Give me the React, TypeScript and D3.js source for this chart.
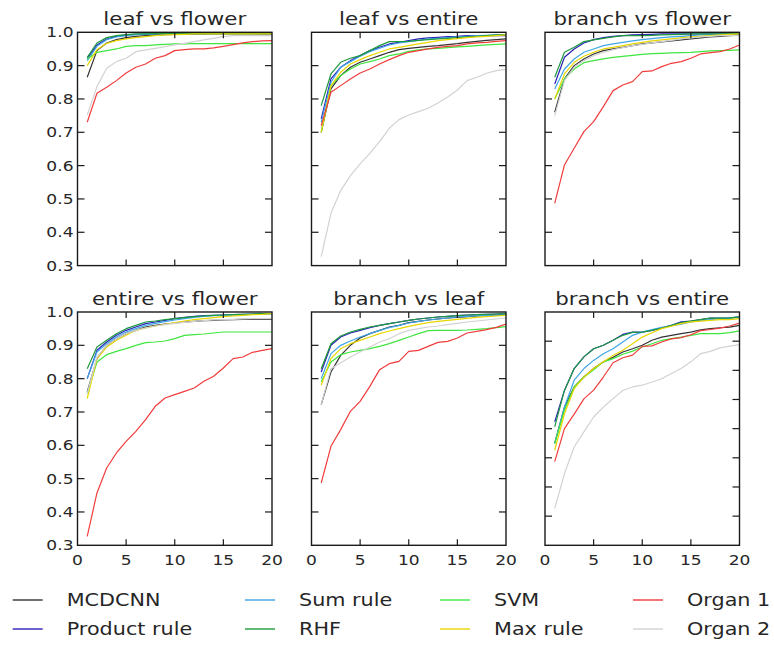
import React from "react";
import * as d3 from "d3";

// ---------- data ----------
const ranks = d3.range(1, 21);
const seriesNames = ["MCDCNN", "Product rule", "Sum rule", "RHF", "SVM", "Max rule", "Organ 1", "Organ 2"];
const seriesColors = ["#333333", "#2a20b8", "#3fa6e6", "#1f9a3e", "#3fe63f", "#e8d600", "#f23c3c", "#d2d2d2"];
const panelTitles = ["leaf vs flower", "leaf vs entire", "branch vs flower", "entire vs flower", "branch vs leaf", "branch vs entire"];
const yDomains = [[0.3, 1], [0.3, 1], [0.3, 1], [0.3, 1], [0.3, 1], [0.2, 1]];
const xTicks = [0, 5, 10, 15, 20];
const yTickLabels = ["0.3", "0.4", "0.5", "0.6", "0.7", "0.8", "0.9", "1.0"];

// series order: MCDCNN, Product rule, Sum rule, RHF, SVM, Max rule, Organ 1, Organ 2
const leafVsFlower = [
  [0.865, 0.945, 0.968, 0.978, 0.984, 0.988, 0.99, 0.992, 0.993, 0.994, 0.995, 0.995, 0.995, 0.996, 0.996, 0.996, 0.996, 0.996, 0.996, 0.996],
  [0.92, 0.962, 0.98, 0.988, 0.992, 0.994, 0.995, 0.995, 0.996, 0.996, 0.996, 0.996, 0.996, 0.996, 0.996, 0.996, 0.996, 0.996, 0.995, 0.995],
  [0.915, 0.958, 0.978, 0.986, 0.99, 0.993, 0.994, 0.995, 0.995, 0.996, 0.996, 0.996, 0.996, 0.996, 0.996, 0.996, 0.996, 0.996, 0.996, 0.996],
  [0.925, 0.968, 0.984, 0.99, 0.993, 0.995, 0.995, 0.996, 0.996, 0.996, 0.996, 0.996, 0.996, 0.996, 0.996, 0.996, 0.996, 0.996, 0.996, 0.996],
  [0.92, 0.94, 0.945, 0.95, 0.958, 0.96, 0.96, 0.962, 0.964, 0.965, 0.965, 0.966, 0.966, 0.966, 0.966, 0.966, 0.966, 0.966, 0.966, 0.966],
  [0.9, 0.948, 0.967, 0.975, 0.98, 0.984, 0.987, 0.99, 0.992, 0.993, 0.994, 0.995, 0.995, 0.995, 0.995, 0.995, 0.995, 0.995, 0.995, 0.995],
  [0.73, 0.817, 0.835, 0.855, 0.878, 0.895, 0.905, 0.922, 0.93, 0.945, 0.948, 0.95, 0.95, 0.953, 0.958, 0.963, 0.968, 0.972, 0.974, 0.975],
  [0.752, 0.837, 0.892, 0.912, 0.922, 0.942, 0.947, 0.952, 0.957, 0.962, 0.967, 0.972, 0.977, 0.982, 0.987, 0.99, 0.99, 0.99, 0.99, 0.99],
];
const leafVsEntire = [
  [0.7, 0.83, 0.87, 0.895, 0.91, 0.92, 0.93, 0.94, 0.948, 0.952, 0.955, 0.958, 0.96, 0.963, 0.966, 0.97, 0.973, 0.976, 0.978, 0.98],
  [0.74, 0.86, 0.895, 0.915, 0.93, 0.945, 0.955, 0.965, 0.97, 0.975, 0.98, 0.983, 0.985, 0.987, 0.988, 0.99, 0.99, 0.99, 0.99, 0.99],
  [0.73, 0.85, 0.895, 0.912, 0.928, 0.942, 0.952, 0.962, 0.968, 0.972, 0.976, 0.98, 0.982, 0.984, 0.986, 0.988, 0.99, 0.991, 0.992, 0.993],
  [0.78, 0.875, 0.91, 0.922, 0.93, 0.945, 0.96, 0.972, 0.972, 0.973, 0.976, 0.978, 0.98, 0.982, 0.984, 0.986, 0.988, 0.99, 0.992, 0.993],
  [0.7, 0.84, 0.87, 0.89, 0.905, 0.912, 0.92, 0.93, 0.935, 0.943, 0.947, 0.95, 0.952, 0.954, 0.956, 0.958, 0.96, 0.962, 0.964, 0.965],
  [0.7, 0.84, 0.88, 0.905, 0.918, 0.93, 0.94, 0.95, 0.955, 0.96, 0.965, 0.97, 0.975, 0.978, 0.981, 0.984, 0.986, 0.988, 0.99, 0.992],
  [0.72, 0.82, 0.84, 0.86, 0.878, 0.89, 0.905, 0.918, 0.93, 0.94, 0.945, 0.95, 0.955, 0.958, 0.96, 0.965, 0.968, 0.97, 0.973, 0.975],
  [0.327, 0.457, 0.525, 0.57, 0.605, 0.637, 0.672, 0.712, 0.738, 0.752, 0.762, 0.772, 0.788, 0.806, 0.827, 0.855, 0.865, 0.877, 0.885, 0.889],
];
const branchVsFlower = [
  [0.76, 0.86, 0.9, 0.92, 0.935, 0.945, 0.95, 0.955, 0.96, 0.965, 0.968, 0.971, 0.974, 0.977, 0.98, 0.983, 0.986, 0.988, 0.99, 0.992],
  [0.845, 0.925, 0.95, 0.968, 0.978, 0.984, 0.988, 0.99, 0.992, 0.993, 0.994, 0.995, 0.995, 0.995, 0.995, 0.995, 0.995, 0.995, 0.995, 0.995],
  [0.83, 0.89, 0.92, 0.94, 0.95, 0.96, 0.965, 0.97, 0.974, 0.978, 0.981, 0.984, 0.986, 0.988, 0.99, 0.992, 0.993, 0.994, 0.995, 0.995],
  [0.865, 0.94, 0.955, 0.972, 0.977, 0.982, 0.986, 0.99, 0.99, 0.99, 0.991, 0.992, 0.993, 0.994, 0.995, 0.995, 0.995, 0.995, 0.995, 0.995],
  [0.8, 0.86, 0.89, 0.909, 0.915, 0.92, 0.925, 0.928, 0.931, 0.934, 0.936, 0.937, 0.938, 0.939, 0.94, 0.942, 0.944, 0.945, 0.946, 0.947],
  [0.8, 0.875, 0.91, 0.928, 0.94, 0.95, 0.955, 0.96, 0.965, 0.97, 0.974, 0.977, 0.98, 0.983, 0.986, 0.988, 0.99, 0.992, 0.994, 0.995],
  [0.487, 0.602, 0.652, 0.702, 0.732, 0.777, 0.825, 0.842, 0.852, 0.882, 0.884, 0.897, 0.907, 0.912, 0.922, 0.935, 0.939, 0.942, 0.95, 0.962],
  [0.75, 0.855, 0.895, 0.915, 0.93, 0.94, 0.948, 0.954, 0.96, 0.964, 0.968, 0.972, 0.976, 0.98, 0.983, 0.986, 0.988, 0.99, 0.99, 0.99],
];
const entireVsFlower = [
  [0.76, 0.86, 0.9, 0.92, 0.935, 0.945, 0.955, 0.96, 0.964, 0.967, 0.97, 0.972, 0.974, 0.975, 0.976, 0.977, 0.978, 0.978, 0.978, 0.978],
  [0.8, 0.885, 0.91, 0.93, 0.945, 0.955, 0.965, 0.97, 0.975, 0.98, 0.984, 0.987, 0.989, 0.99, 0.991, 0.992, 0.993, 0.994, 0.995, 0.995],
  [0.8, 0.88, 0.905, 0.925, 0.94, 0.95, 0.96, 0.966, 0.971, 0.976, 0.98, 0.984, 0.987, 0.989, 0.99, 0.991, 0.992, 0.993, 0.994, 0.995],
  [0.83, 0.895, 0.915, 0.935, 0.95, 0.96, 0.97, 0.973, 0.977, 0.98, 0.983, 0.986, 0.988, 0.99, 0.991, 0.992, 0.993, 0.994, 0.995, 0.995],
  [0.755, 0.85, 0.872, 0.882, 0.89, 0.9, 0.908, 0.91, 0.913, 0.92, 0.93, 0.932, 0.934, 0.937, 0.94, 0.94, 0.94, 0.94, 0.94, 0.94],
  [0.74, 0.86, 0.895, 0.915, 0.93, 0.945, 0.952, 0.958, 0.963, 0.968, 0.973, 0.977, 0.98, 0.983, 0.986, 0.988, 0.99, 0.992, 0.993, 0.995],
  [0.327, 0.457, 0.532, 0.577, 0.612, 0.642, 0.677, 0.717, 0.742, 0.752, 0.762, 0.772, 0.792, 0.807, 0.832, 0.86, 0.865, 0.879, 0.885, 0.89],
  [0.755, 0.865, 0.9, 0.92, 0.935, 0.945, 0.952, 0.958, 0.962, 0.966, 0.969, 0.972, 0.974, 0.976, 0.977, 0.978, 0.979, 0.98, 0.98, 0.98],
];
const branchVsLeaf = [
  [0.722, 0.82, 0.87, 0.9, 0.922, 0.935, 0.945, 0.955, 0.96, 0.968, 0.972, 0.976, 0.979, 0.982, 0.984, 0.986, 0.988, 0.99, 0.991, 0.992],
  [0.82, 0.9, 0.925, 0.937, 0.945, 0.953, 0.96, 0.965, 0.97, 0.975, 0.979, 0.982, 0.985, 0.987, 0.989, 0.991, 0.992, 0.993, 0.994, 0.995],
  [0.8, 0.875, 0.9, 0.913, 0.925, 0.935, 0.945, 0.953, 0.96, 0.967, 0.972, 0.976, 0.979, 0.982, 0.985, 0.987, 0.989, 0.99, 0.991, 0.992],
  [0.83, 0.905, 0.928, 0.94, 0.948, 0.955, 0.96, 0.965, 0.97, 0.975, 0.979, 0.982, 0.985, 0.987, 0.989, 0.991, 0.992, 0.993, 0.994, 0.995],
  [0.79, 0.85, 0.872, 0.88, 0.885, 0.89, 0.897, 0.905, 0.915, 0.925, 0.935, 0.944, 0.945, 0.945, 0.945, 0.946, 0.948, 0.95, 0.953, 0.956],
  [0.78, 0.86, 0.89, 0.905, 0.915, 0.925, 0.935, 0.943, 0.95, 0.957, 0.963, 0.968, 0.972, 0.975, 0.978, 0.981, 0.984, 0.986, 0.988, 0.99],
  [0.487, 0.597, 0.647, 0.702, 0.732, 0.777, 0.827, 0.845, 0.852, 0.882, 0.885, 0.897, 0.909, 0.912, 0.922, 0.937, 0.942, 0.947, 0.954, 0.964],
  [0.722, 0.83, 0.848, 0.865, 0.88, 0.895, 0.91, 0.92, 0.935, 0.945, 0.95, 0.955, 0.958, 0.962, 0.966, 0.97, 0.973, 0.976, 0.979, 0.982],
];
const branchVsEntire = [
  [0.55, 0.674, 0.743, 0.777, 0.806, 0.829, 0.845, 0.863, 0.874, 0.886, 0.903, 0.914, 0.92, 0.926, 0.931, 0.939, 0.943, 0.946, 0.948, 0.954],
  [0.623, 0.731, 0.806, 0.846, 0.874, 0.886, 0.903, 0.923, 0.931, 0.931, 0.937, 0.945, 0.954, 0.966, 0.969, 0.974, 0.979, 0.979, 0.98, 0.983],
  [0.55, 0.674, 0.766, 0.806, 0.834, 0.857, 0.874, 0.897, 0.92, 0.931, 0.94, 0.947, 0.953, 0.958, 0.966, 0.97, 0.974, 0.977, 0.979, 0.981],
  [0.606, 0.731, 0.806, 0.846, 0.874, 0.886, 0.903, 0.92, 0.93, 0.931, 0.937, 0.945, 0.954, 0.964, 0.969, 0.974, 0.979, 0.979, 0.98, 0.983],
  [0.549, 0.663, 0.743, 0.777, 0.802, 0.829, 0.84, 0.855, 0.866, 0.88, 0.891, 0.903, 0.909, 0.914, 0.92, 0.926, 0.926, 0.926, 0.929, 0.935],
  [0.526, 0.651, 0.737, 0.777, 0.806, 0.829, 0.851, 0.869, 0.891, 0.914, 0.929, 0.943, 0.951, 0.96, 0.966, 0.969, 0.971, 0.974, 0.974, 0.977],
  [0.487, 0.6, 0.65, 0.702, 0.732, 0.777, 0.826, 0.843, 0.852, 0.882, 0.884, 0.897, 0.908, 0.912, 0.922, 0.936, 0.94, 0.945, 0.952, 0.962],
  [0.326, 0.446, 0.537, 0.589, 0.64, 0.674, 0.703, 0.731, 0.743, 0.749, 0.76, 0.771, 0.789, 0.806, 0.829, 0.857, 0.865, 0.877, 0.883, 0.888],
];
const panelData = [leafVsFlower, leafVsEntire, branchVsFlower, entireVsFlower, branchVsLeaf, branchVsEntire];

// ---------- layout ----------
const W = 774;
const H = 645;
const SX = 1.22; // horizontal stretch of the original figure
const FONT = "DejaVu Sans, sans-serif";
const TXT = "#262626";
const colLefts = [77.5, 311.5, 545];
const rowTops = [32.3, 312];
const PW = 194.5;
const PH = 233.3;
const legendCols = [12.7, 245, 440, 633];
const legendRows = [600, 629];

const Txt = ({ x, y, anchor, size, children }: any) => (
  <g transform={`translate(${x},${y}) scale(${SX},1)`}>
    <text textAnchor={anchor} fontSize={size} fontFamily={FONT} fill={TXT}>
      {children}
    </text>
  </g>
);

function Panel({ idx }: { idx: number }) {
  const col = idx % 3;
  const row = Math.floor(idx / 3);
  const left = colLefts[col];
  const top = rowTops[row];
  const x = d3.scaleLinear().domain([0, 20]).range([left, left + PW]);
  const dom = yDomains[idx];
  const y = d3.scaleLinear().domain(dom).range([top + PH, top]);
  const yTicks = d3.range(Math.round(dom[0] * 10), 11).map((v) => v / 10);
  const line = d3
    .line<number>()
    .x((_, i) => x(ranks[i]))
    .y((v) => y(v));
  const clipId = `clip${idx}`;
  return (
    <g>
      <clipPath id={clipId}>
        <rect x={left} y={top} width={PW} height={PH} />
      </clipPath>
      <g clipPath={`url(#${clipId})`}>
        {panelData[idx].map((vals, s) => (
          <path key={s} d={line(vals) || ""} fill="none" stroke={seriesColors[s]} strokeWidth={1.2} strokeLinejoin="round" />
        ))}
      </g>
      {/* ticks */}
      {xTicks.slice(1, -1).map((t) => (
        <g key={"xt" + t}>
          <line x1={x(t)} x2={x(t)} y1={top + PH} y2={top + PH - 6} stroke="#1a1a1a" strokeWidth={1.2} />
          <line x1={x(t)} x2={x(t)} y1={top} y2={top + 6} stroke="#1a1a1a" strokeWidth={1.2} />
        </g>
      ))}
      {yTicks.slice(1, -1).map((t) => (
        <g key={"yt" + t}>
          <line x1={left} x2={left + 7} y1={y(t)} y2={y(t)} stroke="#1a1a1a" strokeWidth={1.2} />
          <line x1={left + PW} x2={left + PW - 7} y1={y(t)} y2={y(t)} stroke="#1a1a1a" strokeWidth={1.2} />
        </g>
      ))}
      <rect x={left} y={top} width={PW} height={PH} fill="none" stroke="#1a1a1a" strokeWidth={1.4} />
      {/* title */}
      <Txt x={left + PW / 2} y={top - 7.5} anchor="middle" size={17.5}>
        {panelTitles[idx]}
      </Txt>
      {/* y tick labels */}
      {col === 0 &&
        yTicks.map((t, i) => (
          <Txt key={"yl" + t} x={left - 4} y={y(t) + 5.1} anchor="end" size={14}>
            {yTickLabels[yTickLabels.length - yTicks.length + i]}
          </Txt>
        ))}
      {/* x tick labels */}
      {row === 1 &&
        xTicks.map((t) => (
          <Txt key={"xl" + t} x={x(t)} y={top + PH + 20} anchor="middle" size={14}>
            {String(t)}
          </Txt>
        ))}
    </g>
  );
}

export default function App() {
  return (
    <svg width={W} height={H} style={{ position: "absolute", left: 0, top: 0, background: "#fff" }}>
      <rect x={0} y={0} width={W} height={H} fill="#fff" />
      {panelTitles.map((_, i) => (
        <Panel key={i} idx={i} />
      ))}
      {seriesNames.map((name, i) => {
        const c = Math.floor(i / 2);
        const r = i % 2;
        const lx = legendCols[c];
        const ly = legendRows[r];
        return (
          <g key={name}>
            <line x1={lx} x2={lx + 30} y1={ly} y2={ly} stroke={seriesColors[i]} strokeWidth={1.4} />
            <Txt x={lx + 54} y={ly + 6.2} anchor="start" size={17}>
              {name}
            </Txt>
          </g>
        );
      })}
    </svg>
  );
}
